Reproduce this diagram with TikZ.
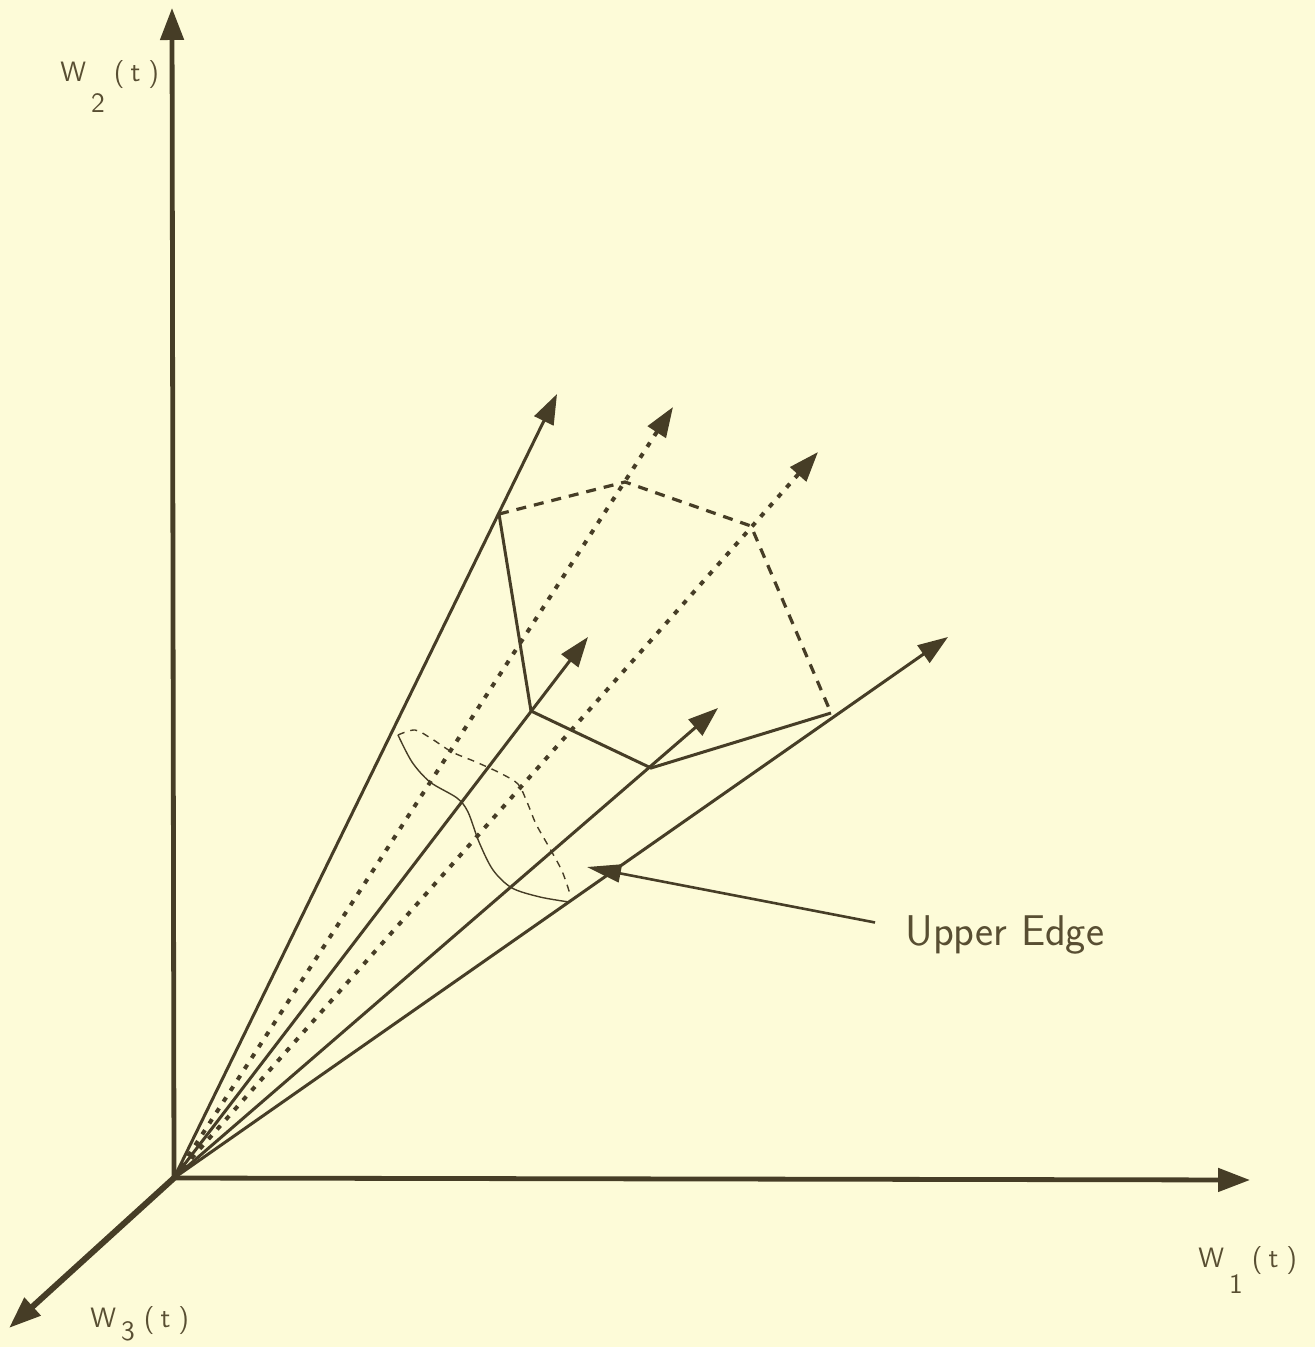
\documentclass[tikz,border=0pt]{standalone}
\usepackage{tikz}
\usetikzlibrary{arrows.meta,calc}

\definecolor{paper}{RGB}{253,251,216}
\definecolor{ink}{RGB}{70,61,38}
\definecolor{letter}{RGB}{88,78,50}

% axis label: W, dropped index, (t)
\newcommand{\wlabel}[2]{W\hspace{2.5pt}\raisebox{-#2}{#1}\hspace{4.5pt}(\hspace{3pt}t\hspace{4pt})}

\begin{document}
\begin{tikzpicture}[
    x=0.5pt, y=-0.5pt,
    font=\sffamily,
    axis/.style={draw=ink, line width=2.4pt, -{Triangle[length=16pt, width=11.5pt]}},
    ray/.style={draw=ink, line width=1.5pt, -{Triangle[length=15pt, width=10.5pt]}},
    dotray/.style={ray, line width=2pt, dash pattern=on 2.5pt off 4pt},
    rim/.style={draw=ink, line width=1.5pt},
    hidden/.style={rim, line width=1.6pt, dash pattern=on 5pt off 4pt},
    sect/.style={draw=ink, line width=0.7pt},
    sectback/.style={sect, dash pattern=on 3.5pt off 3pt},
    axlbl/.style={anchor=base west, inner sep=0pt, text=letter,
                  font=\sffamily\fontsize{14}{16}\selectfont},
    pointer/.style={draw=ink, line width=1.3pt, -{Triangle[length=17pt, width=9pt]}},
  ]
  % ---------------------------------------------------------------
  % page
  % ---------------------------------------------------------------
  \fill[paper] (0,0) rectangle (1315,1347);
  \useasboundingbox (0,0) rectangle (1315,1347);

  % ---------------------------------------------------------------
  % axes
  % ---------------------------------------------------------------
  \coordinate (O) at (174,1178);
  \coordinate (X1) at (1250,1180);
  \coordinate (X2) at (172,8);
  \coordinate (X3) at (9,1328);

  \draw[axis] (O) -- (X1);
  \draw[axis] (O) -- (X2);
  \draw[axis, line width=3pt] (O) -- (X3);

  \node[axlbl] (lw1) at (1198,1267) {\wlabel{1}{13pt}};
  \node[axlbl] (lw2) at (60,82) {\wlabel{2}{15.5pt}};
  \node[axlbl] (lw3) at (90,1327) {\wlabel{3}{6.5pt}};

  % ---------------------------------------------------------------
  % rays of the cone
  % ---------------------------------------------------------------
  \coordinate (tA) at (557,394);
  \coordinate (tB) at (673,407);
  \coordinate (tC) at (818,452);
  \coordinate (tD) at (588,637);
  \coordinate (tE) at (718,708);
  \coordinate (tF) at (948,637);

  \draw[ray] (O) -- (tA);
  \draw[ray] (O) -- (tD);
  \draw[ray] (O) -- (tE);
  \draw[ray] (O) -- (tF);
  \draw[dotray] (O) -- (tB);
  \draw[dotray] (O) -- (tC);

  % vertices where the rim meets the rays
  \coordinate (pA) at (499,514);
  \coordinate (pB) at (625,482);
  \coordinate (pC) at (751,526);
  \coordinate (pF) at (831,713);
  \coordinate (pD) at (531,711);
  \coordinate (pE) at (651,768);

  \draw[rim] (pA) -- (pD) -- (pE) -- (pF);
  \draw[hidden] (pA) -- (pB) -- (pC) -- (pF);

  % ---------------------------------------------------------------
  % cross-section near the apex
  % ---------------------------------------------------------------
  \draw[sect] plot[smooth] coordinates {(398,735) (412,762) (430,782)
    (457,798) (468,812) (479,842) (493,870) (512,888) (540,897) (569,902)};
  \draw[sectback] plot[smooth] coordinates {(398,735) (415,730) (432,739)
    (452,752) (476,762) (500,773) (518,784) (527,802) (536,824) (549,847)
    (562,871) (570,894)};

  % ---------------------------------------------------------------
  % label
  % ---------------------------------------------------------------
  \node[anchor=base west, inner sep=0pt, text=letter,
        font=\sffamily\fontsize{21.5}{25}\selectfont] (edge) at (905,945) {Upper Edge};
  \coordinate (ueTip) at (587,867);
  \draw[pointer] ($(edge.west)+(-30,-12)$) -- (ueTip);
\end{tikzpicture}
\end{document}
